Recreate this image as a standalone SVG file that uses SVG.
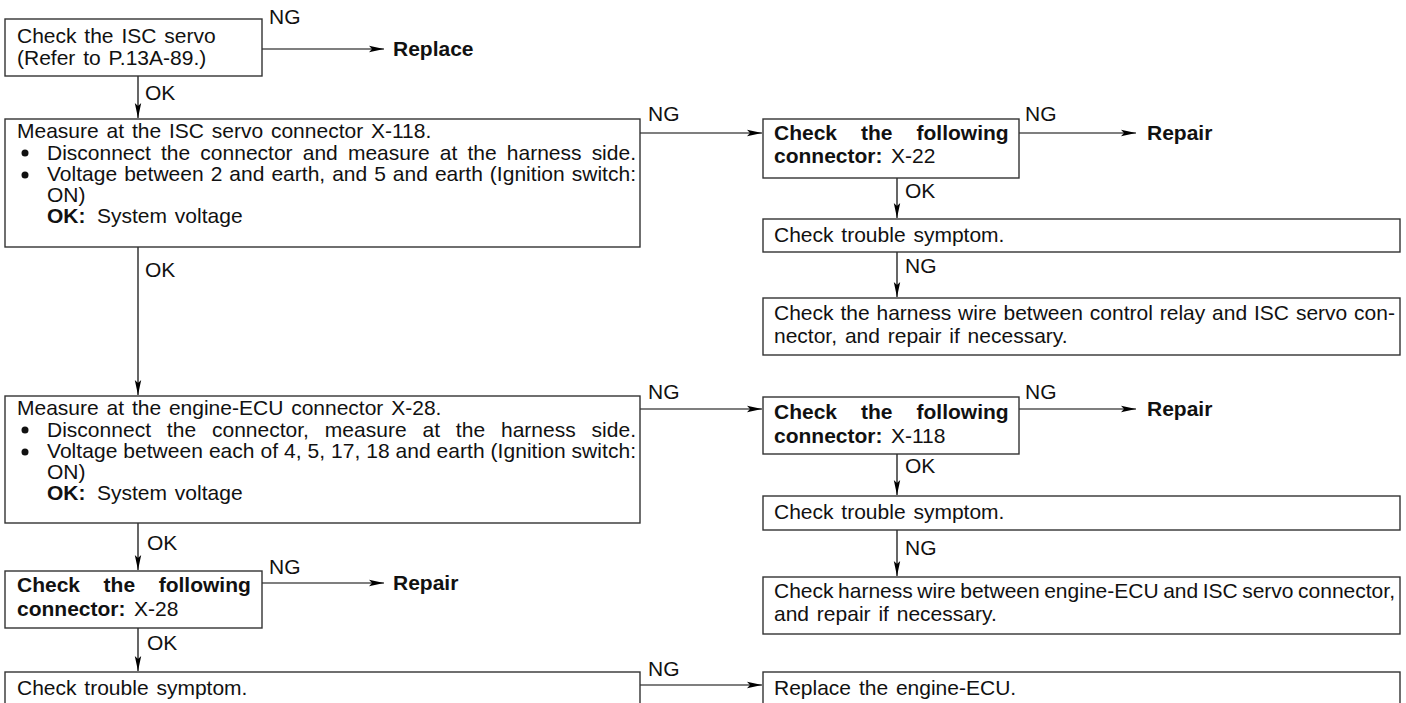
<svg xmlns="http://www.w3.org/2000/svg" width="1406" height="703" viewBox="0 0 1406 703">
<defs>
<marker id="arr" markerUnits="userSpaceOnUse" markerWidth="16" markerHeight="8" refX="15" refY="4" orient="auto">
<path d="M0,0.8 L15,4 L0,7.2 L3,4 Z" fill="#000"/>
</marker>
<style>
.box{fill:#fff;stroke:#333;stroke-width:1.4}
.t{font-family:"Liberation Sans",Arial,sans-serif;font-size:21px;fill:#111;word-spacing:2px}
.b{font-weight:bold}
.c{stroke:#000;stroke-width:1.2;fill:none;marker-end:url(#arr)}
</style>
</defs>
<rect width="1406" height="703" fill="#fff"/>

<g id="connectors">
<line class="c" x1="262" y1="49" x2="384" y2="49"/>
<line class="c" x1="138" y1="76" x2="138" y2="118"/>
<line class="c" x1="640" y1="133" x2="762" y2="133"/>
<line class="c" x1="1019" y1="133" x2="1136" y2="133"/>
<line class="c" x1="897" y1="178" x2="897" y2="218"/>
<line class="c" x1="897" y1="252" x2="897" y2="297"/>
<line class="c" x1="138" y1="247" x2="138" y2="395"/>
<line class="c" x1="640" y1="409" x2="762" y2="409"/>
<line class="c" x1="1019" y1="409" x2="1136" y2="409"/>
<line class="c" x1="897" y1="454" x2="897" y2="495"/>
<line class="c" x1="897" y1="530" x2="897" y2="576"/>
<line class="c" x1="138" y1="523" x2="138" y2="570"/>
<line class="c" x1="262" y1="583" x2="384" y2="583"/>
<line class="c" x1="138" y1="628" x2="138" y2="671"/>
<line class="c" x1="640" y1="685" x2="762" y2="685"/>
<text class="t" x="269" y="24">NG</text>
<text class="t" x="145" y="100">OK</text>
<text class="t" x="648" y="121">NG</text>
<text class="t" x="1025" y="121">NG</text>
<text class="t" x="905" y="198">OK</text>
<text class="t" x="905" y="273">NG</text>
<text class="t" x="145" y="277">OK</text>
<text class="t" x="648" y="399">NG</text>
<text class="t" x="1025" y="399">NG</text>
<text class="t" x="905" y="473">OK</text>
<text class="t" x="905" y="555">NG</text>
<text class="t" x="147" y="550">OK</text>
<text class="t" x="269" y="574">NG</text>
<text class="t" x="147" y="650">OK</text>
<text class="t" x="648" y="676">NG</text>
</g>

<g id="n1">
<rect class="box" x="5" y="19" width="257" height="57"/>
<text class="t" x="17" y="43">Check the ISC servo</text>
<text class="t" x="17" y="65">(Refer to P.13A-89.)</text>
</g>
<g id="n_replace1"><text class="t b" x="393" y="56">Replace</text></g>

<g id="n2">
<rect class="box" x="5" y="119" width="635" height="128"/>
<text class="t" x="17" y="138">Measure at the ISC servo connector X-118.</text>
<circle cx="25" cy="153" r="3.5" fill="#111"/>
<text class="t" x="47" y="159.5" style="word-spacing:4.3px" textLength="589" lengthAdjust="spacing">Disconnect the connector and measure at the harness side.</text>
<circle cx="25" cy="175" r="3.5" fill="#111"/>
<text class="t" x="47" y="181" style="word-spacing:1.1px" textLength="589" lengthAdjust="spacing">Voltage between 2 and earth, and 5 and earth (Ignition switch:</text>
<text class="t" x="47" y="202">ON)</text>
<text class="t" x="47" y="223"><tspan class="b">OK:</tspan><tspan x="97">System voltage</tspan></text>
</g>

<g id="n3">
<rect class="box" x="763" y="119" width="256" height="59"/>
<text class="t b" x="774" y="140">Check<tspan x="861">the</tspan><tspan x="916.5">following</tspan></text>
<text class="t" x="774" y="163"><tspan class="b">connector:</tspan><tspan x="891">X-22</tspan></text>
</g>
<g id="n_repair1"><text class="t b" x="1147" y="140">Repair</text></g>

<g id="n4">
<rect class="box" x="763" y="219" width="637" height="33"/>
<text class="t" x="774" y="242">Check trouble symptom.</text>
</g>

<g id="n5">
<rect class="box" x="763" y="298" width="637" height="57"/>
<text class="t" x="774" y="320" style="word-spacing:1px" textLength="621" lengthAdjust="spacing">Check the harness wire between control relay and ISC servo con-</text>
<text class="t" x="774" y="343">nector, and repair if necessary.</text>
</g>

<g id="n6">
<rect class="box" x="5" y="396" width="635" height="127"/>
<text class="t" x="17" y="415">Measure at the engine-ECU connector X-28.</text>
<circle cx="25" cy="430" r="3.5" fill="#111"/>
<text class="t" x="47" y="436.5" style="word-spacing:10px" textLength="589" lengthAdjust="spacing">Disconnect the connector, measure at the harness side.</text>
<circle cx="25" cy="452" r="3.5" fill="#111"/>
<text class="t" x="47" y="458" style="word-spacing:0px" textLength="589" lengthAdjust="spacing">Voltage between each of 4, 5, 17, 18 and earth (Ignition switch:</text>
<text class="t" x="47" y="479">ON)</text>
<text class="t" x="47" y="500"><tspan class="b">OK:</tspan><tspan x="97">System voltage</tspan></text>
</g>

<g id="n7">
<rect class="box" x="763" y="397" width="256" height="57"/>
<text class="t b" x="774" y="419">Check<tspan x="861">the</tspan><tspan x="916.5">following</tspan></text>
<text class="t" x="774" y="443"><tspan class="b">connector:</tspan><tspan x="891">X-118</tspan></text>
</g>
<g id="n_repair2"><text class="t b" x="1147" y="416">Repair</text></g>

<g id="n8">
<rect class="box" x="763" y="496" width="637" height="34"/>
<text class="t" x="774" y="519">Check trouble symptom.</text>
</g>

<g id="n9">
<rect class="box" x="763" y="577" width="637" height="57"/>
<text class="t" x="774" y="598" style="word-spacing:-1.4px" textLength="621" lengthAdjust="spacing">Check harness wire between engine-ECU and ISC servo connector,</text>
<text class="t" x="774" y="621">and repair if necessary.</text>
</g>

<g id="n10">
<rect class="box" x="5" y="571" width="257" height="57"/>
<text class="t b" x="17" y="592">Check<tspan x="103.6">the</tspan><tspan x="158.7">following</tspan></text>
<text class="t" x="17" y="616"><tspan class="b">connector:</tspan><tspan x="134">X-28</tspan></text>
</g>
<g id="n_repair3"><text class="t b" x="393" y="590">Repair</text></g>

<g id="n11">
<rect class="box" x="5" y="672" width="635" height="40"/>
<text class="t" x="17" y="695">Check trouble symptom.</text>
</g>

<g id="n12">
<rect class="box" x="763" y="672" width="637" height="40"/>
<text class="t" x="774" y="695">Replace the engine-ECU.</text>
</g>
</svg>
